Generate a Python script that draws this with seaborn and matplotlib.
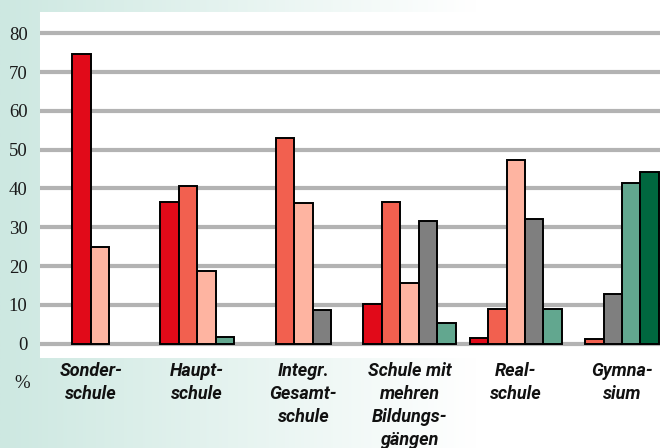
import numpy as np
import pandas as pd
import matplotlib
matplotlib.use("Agg")
import matplotlib.pyplot as plt
import seaborn as sns

categories = ["Sonder-\nschule", "Haupt-\nschule", "Integr.\nGesamt-\nschule",
              "Schule mit\nmehren\nBildungs-\ngängen", "Real-\nschule", "Gymna-\nsium"]
series = ["Gruppe 1", "Gruppe 2", "Gruppe 3", "Gruppe 4", "Gruppe 5", "Gruppe 6"]
colors = ["#e10a19", "#f2604f", "#feb4a1", "#7f7f7f", "#62a78f", "#00673f"]

# percent values, 0 = no bar in that school type
g1 = [74.7, 36.6, 0.0, 10.2, 1.5, 0.0]
g2 = [0.0, 40.7, 52.9, 36.6, 8.9, 1.2]
g3 = [25.0, 18.8, 36.3, 15.6, 47.4, 0.0]
g4 = [0.0, 0.0, 8.6, 31.7, 32.2, 12.9]
g5 = [0.0, 1.8, 0.0, 5.4, 8.9, 41.3]
g6 = [0.0, 0.0, 0.0, 0.0, 0.0, 44.2]
yticks = [0, 10, 20, 30, 40, 50, 60, 70, 80]

bar_w = 0.174
all_vals = [g1, g2, g3, g4, g5, g6]
rows = []
for i, cat in enumerate(categories):
    present = [(s, v[i]) for s, v in zip(series, all_vals) if v[i] > 0]
    n = len(present)
    for k, (s, val) in enumerate(present):
        rows.append({"pos": i + (k - (n - 1) / 2) * bar_w, "Gruppe": s, "Anteil": val})
df = pd.DataFrame(rows)

sns.set_style("white")
fig = plt.figure(figsize=(6.6, 4.48), dpi=100)

# mint to white background
bg = fig.add_axes([0, 0, 1, 1], zorder=0)
x = np.linspace(0, 1, 600)
t = np.clip(x / 0.72, 0, 1)
mint = np.array([205, 232, 225]) / 255
grad = mint[None, :] * (1 - t[:, None]) + t[:, None]
bg.imshow(grad[None, :, :], aspect="auto", extent=[0, 1, 0, 1])
bg.set_axis_off()

ax = fig.add_axes([40 / 660, 90 / 448, 620 / 660, 346 / 448], zorder=1)
ax.set_facecolor("white")
sns.barplot(data=df, x="pos", y="Anteil", hue="Gruppe", palette=dict(zip(series, colors)),
            native_scale=True, dodge=False, width=1.0, edgecolor="black", linewidth=1.4,
            saturation=1, errorbar=None, legend=False, ax=ax)

ax.set_xlim(-0.48, 5.358)
ax.set_ylim(-3.7, 85.5)
ax.set_yticks(yticks)
ax.set_yticklabels([str(v) for v in yticks], fontfamily="Liberation Serif", fontsize=13.5,
                   color="#1a1a1a")
ax.set_xticks(range(len(categories)))
ax.set_xticklabels(categories, fontfamily="Roboto", fontweight="bold", fontstyle="italic",
                   fontsize=13, linespacing=1.36, color="#111111")
ax.tick_params(axis="y", length=0, pad=9)
ax.tick_params(axis="x", length=0, pad=3)
ax.grid(axis="y", color="#b3b3b3", linewidth=3.0)
ax.set_axisbelow(True)
for sp in ax.spines.values():
    sp.set_visible(False)
ax.set_xlabel("")
ax.set_ylabel("")

fig.text(22 / 660, 1 - 383 / 448, "%", ha="center", va="center",
         fontfamily="Liberation Serif", fontsize=13.5, color="#1a1a1a")

fig.savefig("out.png", dpi=100)
